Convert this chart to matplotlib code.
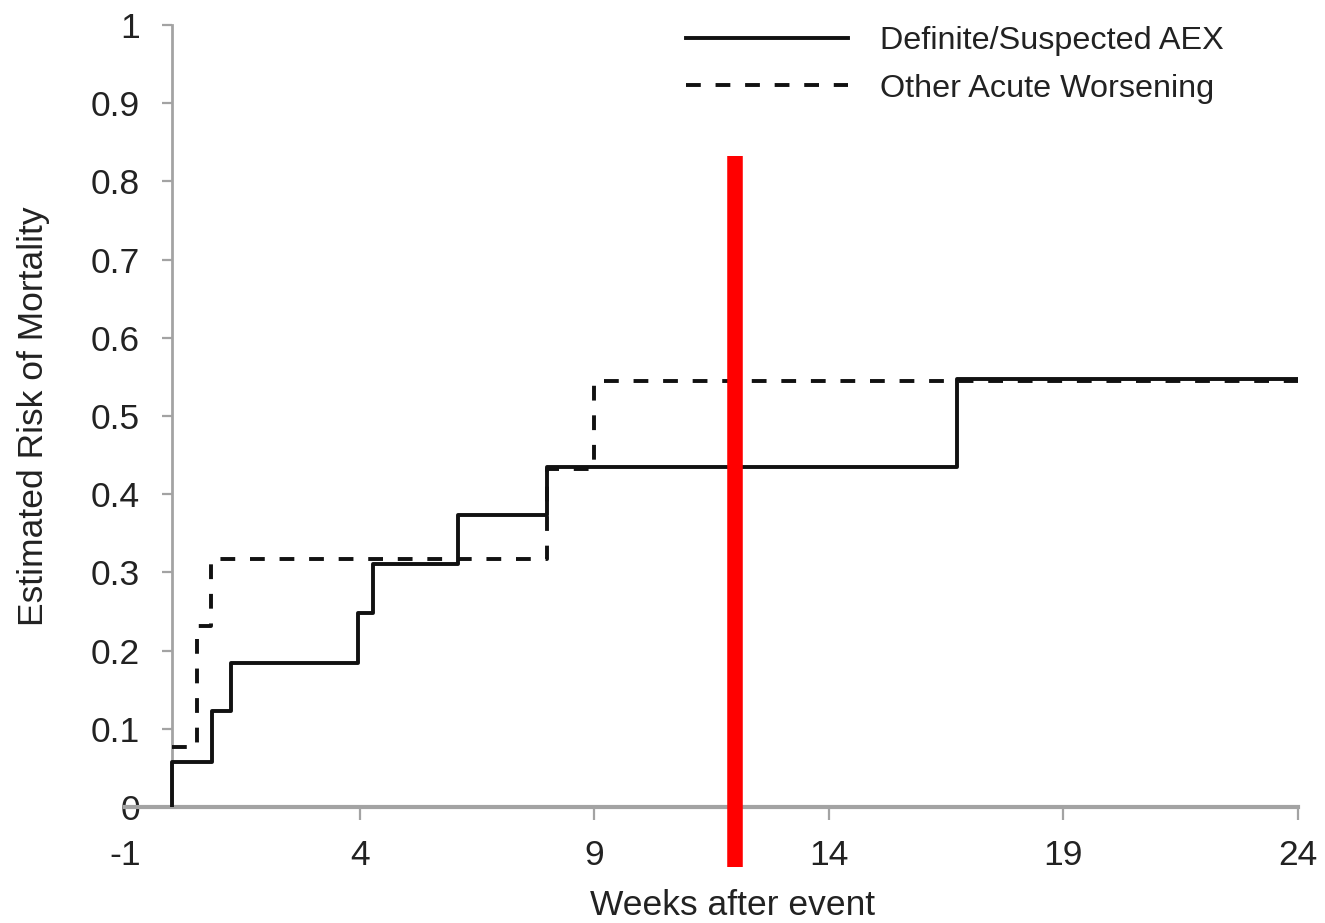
import matplotlib
matplotlib.use("Agg")
import matplotlib.pyplot as plt
import numpy as np

plt.rcParams['font.family'] = ['Liberation Sans', 'DejaVu Sans']

# Cumulative mortality estimates (step changes at event weeks)
aex_weeks = [0, 0, 0.85, 1.26, 3.97, 4.29, 6.10, 8.0, 16.73, 24]
aex_risk = [0, 0.058, 0.123, 0.184, 0.248, 0.311, 0.373, 0.435, 0.547, 0.547]

other_weeks = [0, 0.53, 0.83, 7.99, 9.0, 24]
other_risk = [0.077, 0.231, 0.317, 0.432, 0.545, 0.545]

x_ticks = [-1, 4, 9, 14, 19, 24]
y_ticks = [0, 0.1, 0.2, 0.3, 0.4, 0.5, 0.6, 0.7, 0.8, 0.9, 1.0]
y_tick_labels = ["0", "0.1", "0.2", "0.3", "0.4", "0.5", "0.6", "0.7", "0.8", "0.9", "1"]

marker_week = 12
marker_span = (-0.077, 0.8325)

W, H = 1325, 923
fig = plt.figure(figsize=(W / 100, H / 100), dpi=100)
ax = fig.add_axes([125 / W, 1 - 807 / H, (1298 - 125) / W, (807 - 25) / H])

text_color = "#222222"
axis_color = "#a3a3a3"

ax.plot(other_weeks, other_risk, drawstyle="steps-post", color="#111111",
        lw=2.8, dashes=(3.8, 3.8), label="Other Acute Worsening", zorder=3)
ax.plot(aex_weeks, aex_risk, drawstyle="steps-post", color="#111111",
        lw=2.8, label="Definite/Suspected AEX", zorder=4)

ax.plot([marker_week, marker_week], list(marker_span), color="#ff0000",
        lw=11.2, solid_capstyle="butt", clip_on=False, zorder=5)

ax.set_xlim(-1, 24)
ax.set_ylim(0, 1)

for side in ("top", "right"):
    ax.spines[side].set_visible(False)
ax.spines["left"].set_position(("data", 0))
ax.spines["left"].set_color(axis_color)
ax.spines["left"].set_linewidth(2.0)
ax.spines["bottom"].set_color(axis_color)
ax.spines["bottom"].set_linewidth(3.0)

ax.set_xticks(x_ticks)
ax.set_xticklabels([str(t) for t in x_ticks])
ax.set_yticks(y_ticks)
ax.set_yticklabels(y_tick_labels)
ax.tick_params(axis="y", direction="out", length=7, width=1.6, color=axis_color,
               labelsize=25.5, labelcolor=text_color, pad=16)
ax.tick_params(axis="x", direction="out", length=9, width=1.6, color=axis_color,
               labelsize=25.5, labelcolor=text_color, pad=14)
ax.xaxis.get_major_ticks()[0].tick1line.set_visible(False)

ax.set_xlabel("Weeks after event", fontsize=25.5, color=text_color)
ax.xaxis.set_label_coords((733 - 125) / (1298 - 125), -0.105)
ax.set_ylabel("Estimated Risk of Mortality", fontsize=25.5, color=text_color)
ax.yaxis.set_label_coords((50 - 125) / (1298 - 125), 0.5)

handles, labels = ax.get_legend_handles_labels()
order = [1, 0]
fig.legend([handles[i] for i in order], [labels[i] for i in order],
           loc="upper left", bbox_to_anchor=(686 / W, 1 - 26 / H),
           frameon=False, fontsize=23.3, handlelength=5.0, handletextpad=1.0,
           labelspacing=0.55, borderpad=0, borderaxespad=0, labelcolor=text_color)

fig.savefig("out.png", dpi=100)
